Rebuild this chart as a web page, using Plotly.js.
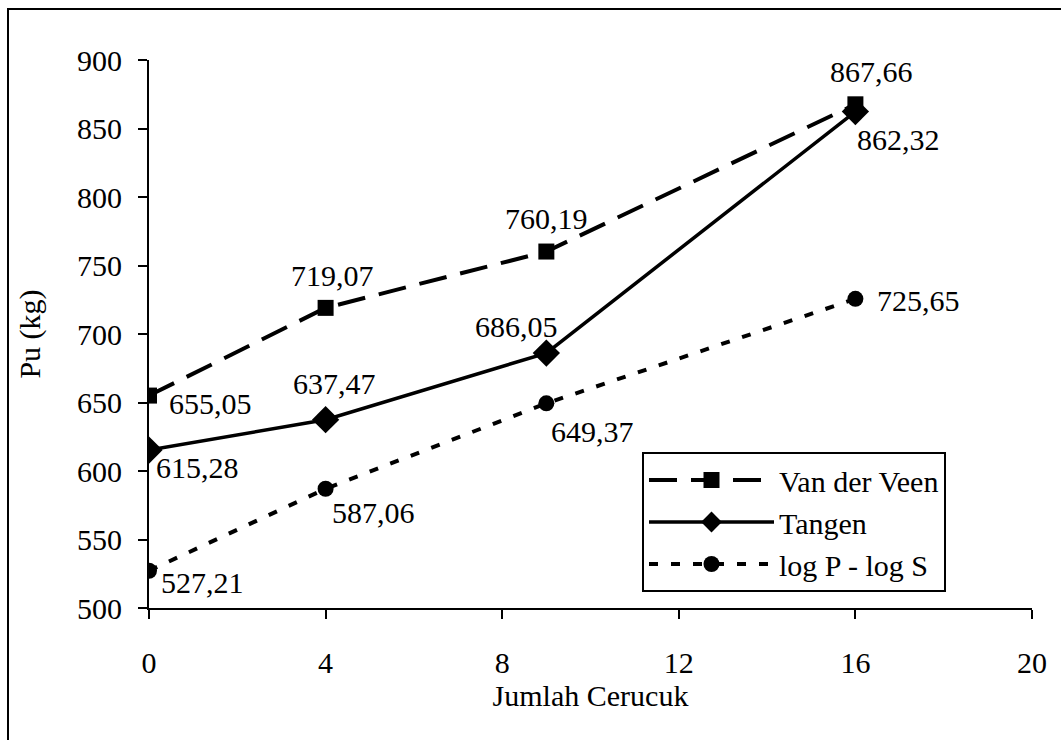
<!DOCTYPE html>
<html>
<head>
<meta charset="utf-8">
<script src="https://cdn.plot.ly/plotly-3.0.1.min.js"></script>
<style>
html,body{margin:0;padding:0;background:#fff;}
#chart{width:1061px;height:740px;}
</style>
</head>
<body>
<div id="chart"></div>
<script>
// Data
const jumlahCerucuk = [0, 4, 9, 16];
const seriesNames = ["Van der Veen", "Tangen", "log P - log S"];
const vanDerVeen = [655.05, 719.07, 760.19, 867.66];
const tangen = [615.28, 637.47, 686.05, 862.32];
const logPlogS = [527.21, 587.06, 649.37, 725.65];
const xTicks = [0, 4, 8, 12, 16, 20];
const yTicks = [500, 550, 600, 650, 700, 750, 800, 850, 900];

const FONT = "Liberation Serif, 'Times New Roman', serif";
const fs = 30;

const traces = [
  {x: jumlahCerucuk, y: vanDerVeen, name: seriesNames[0], mode: "lines+markers",
   line: {color: "#000", width: 4, dash: "28px,14px"},
   marker: {symbol: "square", size: 16, color: "#000"}},
  {x: jumlahCerucuk, y: tangen, name: seriesNames[1], mode: "lines+markers",
   line: {color: "#000", width: 3.5},
   marker: {symbol: "diamond", size: 21, color: "#000"}},
  {x: jumlahCerucuk, y: logPlogS, name: seriesNames[2], mode: "lines+markers",
   line: {color: "#000", width: 4, dash: "9px,13px"},
   marker: {symbol: "circle", size: 16, color: "#000"}}
];

// label placement styles: [xanchor, xshift, yshift]
const vdvPos = [["left", 18, -8], ["center", 7, 32], ["center", 0, 33], ["center", 16, 33]];
const tanPos = [["left", 5, -17], ["center", 9, 36], ["right", 14, 27], ["left", 0, -28]];
const logPos = [["left", 10, -12], ["left", 4, -24], ["left", 3, -28], ["left", 20, -2]];

function fmt(v){ return v.toFixed(2).replace(".", ","); }
const annotations = [];
[[vanDerVeen, vdvPos], [tangen, tanPos], [logPlogS, logPos]].forEach(([ys, pos]) => {
  ys.forEach((v, i) => {
    annotations.push({
      x: jumlahCerucuk[i], y: v, xref: "x", yref: "y", text: fmt(v), showarrow: false,
      xanchor: pos[i][0], yanchor: "middle", xshift: pos[i][1], yshift: pos[i][2],
      font: {family: FONT, size: fs, color: "#000"}
    });
  });
});

const L = 149, R = 29, T = 60, B = 132, W = 1061, H = 740;
const pw = W - L - R, ph = H - T - B;

const layout = {
  width: W, height: H,
  margin: {l: L, r: R, t: T, b: B, pad: 0},
  paper_bgcolor: "#fff", plot_bgcolor: "#fff",
  font: {family: FONT, size: fs, color: "#000"},
  showlegend: true,
  legend: {
    x: (642 - L) / pw, y: (608 - 452) / ph, xanchor: "left", yanchor: "top",
    bgcolor: "#fff", bordercolor: "#000", borderwidth: 2,
    font: {family: FONT, size: fs, color: "#000"},
    itemwidth: 125, tracegroupgap: 0
  },
  xaxis: {
    range: [0, 20], tickmode: "array", tickvals: xTicks, ticktext: xTicks.map(String),
    showgrid: false, zeroline: false, showline: true, linecolor: "#000", linewidth: 2,
    ticks: "outside", ticklen: 9, tickwidth: 2, tickcolor: "#000",
    ticklabelstandoff: 18,
    tickfont: {family: FONT, size: fs, color: "#000"},
    title: {text: "Jumlah Cerucuk", font: {family: FONT, size: fs, color: "#000"}, standoff: 4},
    fixedrange: true
  },
  yaxis: {
    range: [500, 900], tickmode: "array", tickvals: yTicks, ticktext: yTicks.map(String),
    showgrid: false, zeroline: false, showline: true, linecolor: "#000", linewidth: 2,
    ticks: "outside", ticklen: 9, tickwidth: 2, tickcolor: "#000",
    ticklabelstandoff: 10,
    tickfont: {family: FONT, size: fs, color: "#000"},
    title: {text: "Pu (kg)", font: {family: FONT, size: fs, color: "#000"}, standoff: 28},
    fixedrange: true
  },
  annotations: annotations,
  shapes: [{
    type: "rect", xref: "paper", yref: "paper",
    x0: (8 - L) / pw, x1: (1080 - L) / pw,
    y0: (608 - 760) / ph, y1: (608 - 9) / ph,
    line: {color: "#000", width: 2}, fillcolor: "rgba(0,0,0,0)", layer: "below"
  }]
};

Plotly.newPlot("chart", traces, layout, {displayModeBar: false, staticPlot: true});
</script>
</body>
</html>
